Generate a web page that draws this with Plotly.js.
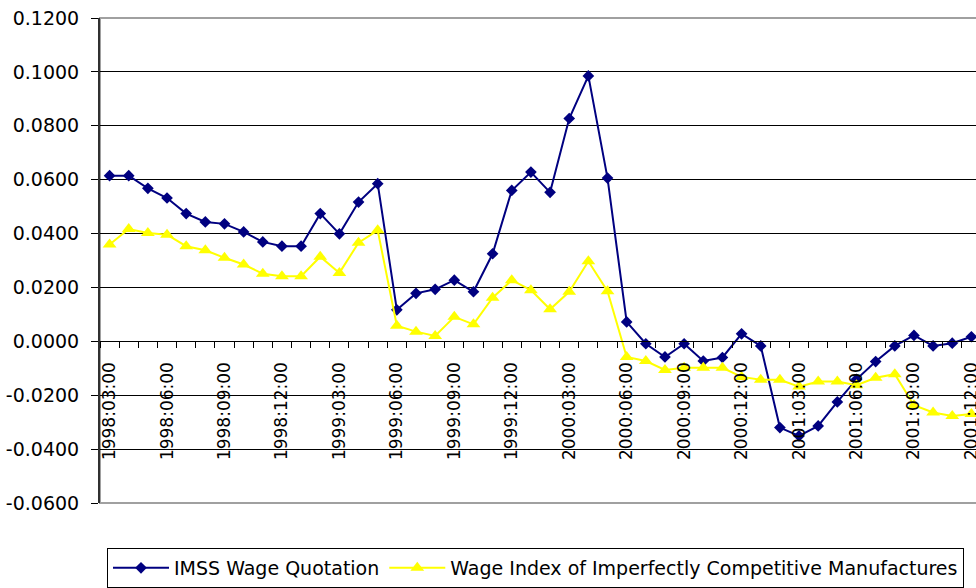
<!DOCTYPE html>
<html>
<head>
<meta charset="utf-8">
<script src="https://cdn.plot.ly/plotly-3.0.1.min.js"></script>
<style>
  html, body { margin: 0; padding: 0; background: #fff; }
  #chart { width: 976px; height: 588px; }
</style>
</head>
<body>
<div id="chart"></div>
<script>
// ---- Data ----
var months = [
  "1998:03:00","1998:04:00","1998:05:00","1998:06:00","1998:07:00","1998:08:00",
  "1998:09:00","1998:10:00","1998:11:00","1998:12:00","1999:01:00","1999:02:00",
  "1999:03:00","1999:04:00","1999:05:00","1999:06:00","1999:07:00","1999:08:00",
  "1999:09:00","1999:10:00","1999:11:00","1999:12:00","2000:01:00","2000:02:00",
  "2000:03:00","2000:04:00","2000:05:00","2000:06:00","2000:07:00","2000:08:00",
  "2000:09:00","2000:10:00","2000:11:00","2000:12:00","2001:01:00","2001:02:00",
  "2001:03:00","2001:04:00","2001:05:00","2001:06:00","2001:07:00","2001:08:00",
  "2001:09:00","2001:10:00","2001:11:00","2001:12:00"
];
var shownLabels = [
  "1998:03:00","1998:06:00","1998:09:00","1998:12:00","1999:03:00","1999:06:00",
  "1999:09:00","1999:12:00","2000:03:00","2000:06:00","2000:09:00","2000:12:00",
  "2001:03:00","2001:06:00","2001:09:00","2001:12:00"
];
var imssWage = [
  0.0615, 0.0615, 0.0568, 0.0532, 0.0474, 0.0443, 0.0436, 0.0406, 0.0369, 0.0353,
  0.0353, 0.0474, 0.0399, 0.0517, 0.0585, 0.0117, 0.0178, 0.0193, 0.0227, 0.0184,
  0.0325, 0.0560, 0.0628, 0.0553, 0.0827, 0.0985, 0.0606, 0.0072, -0.0009, -0.0058,
  -0.0009, -0.0073, -0.0060, 0.0028, -0.0017, -0.0320, -0.0351, -0.0314, -0.0225, -0.0141,
  -0.0075, -0.0017, 0.0022, -0.0017, -0.0007, 0.0017
];
var wageIndex = [
  0.0359, 0.0417, 0.0402, 0.0396, 0.0353, 0.0338, 0.0310, 0.0285, 0.0251, 0.0242,
  0.0242, 0.0314, 0.0254, 0.0366, 0.0412, 0.0058, 0.0036, 0.0020, 0.0091, 0.0063,
  0.0162, 0.0227, 0.0190, 0.0119, 0.0184, 0.0297, 0.0186, -0.0058, -0.0073, -0.0106,
  -0.0098, -0.0098, -0.0098, -0.0132, -0.0143, -0.0143, -0.0168, -0.0149, -0.0149, -0.0163,
  -0.0135, -0.0122, -0.0237, -0.0264, -0.0277, -0.0270
];
var yTickVals = [-0.06, -0.04, -0.02, 0, 0.02, 0.04, 0.06, 0.08, 0.10, 0.12];
var yTickText = ["-0.0600","-0.0400","-0.0200","0.0000","0.0200","0.0400","0.0600","0.0800","0.1000","0.1200"];
var seriesNames = ["IMSS Wage Quotation", "Wage Index of Imperfectly Competitive Manufactures"];

// ---- Chart ----
var FONT = "DejaVu Sans, Liberation Sans, Arial, sans-serif";
var xTickText = months.map(function (m) { return shownLabels.indexOf(m) >= 0 ? m : ""; });

var traces = [
  {
    x: months, y: imssWage, name: seriesNames[0], type: "scatter", mode: "lines+markers",
    line: { color: "#000080", width: 2 },
    marker: { symbol: "diamond", size: 9, color: "#000080" }
  },
  {
    x: months, y: wageIndex, name: seriesNames[1], type: "scatter", mode: "lines+markers",
    line: { color: "#FFFF00", width: 2 },
    marker: { symbol: "triangle-up", size: 12, color: "#FFFF00" }
  }
];

var yMin = yTickVals[0], yMax = yTickVals[yTickVals.length - 1];

var layout = {
  width: 976, height: 588,
  margin: { l: 100, r: 0, t: 18, b: 84 },
  paper_bgcolor: "#ffffff", plot_bgcolor: "#ffffff",
  font: { family: FONT, size: 19, color: "#000" },
  showlegend: true,
  legend: {
    orientation: "h",
    x: 7 / 876, xanchor: "left",
    y: -45 / 486, yanchor: "top",
    bordercolor: "#000", borderwidth: 1,
    font: { family: FONT, size: 19, color: "#000" },
    itemwidth: 56,
    traceorder: "normal"
  },
  xaxis: {
    type: "category",
    categoryorder: "array", categoryarray: months,
    range: [-0.5, 45.24],
    tickmode: "array", tickvals: months, ticktext: xTickText,
    tickson: "boundaries",
    ticks: "outside", ticklen: 6, tickcolor: "#000", tickwidth: 1,
    tickangle: -90,
    ticklabelstandoff: 13,
    tickfont: { family: FONT, size: 17, color: "#000" },
    showline: true, linecolor: "#000", linewidth: 1,
    showgrid: false, zeroline: false,
    anchor: "free",
    position: (0 - yMin) / (yMax - yMin),
    fixedrange: true
  },
  yaxis: {
    range: [yMin, yMax],
    tickmode: "array", tickvals: yTickVals, ticktext: yTickText,
    ticks: "outside", ticklen: 7, tickcolor: "#000", tickwidth: 1,
    ticklabelstandoff: 8,
    tickfont: { family: FONT, size: 19, color: "#000" },
    showline: true, linecolor: "#303030", linewidth: 2,
    showgrid: true, gridcolor: "#000", gridwidth: 1,
    zeroline: true, zerolinecolor: "#000", zerolinewidth: 1,
    fixedrange: true
  },
  shapes: [
    {
      type: "rect", xref: "paper", yref: "paper", x0: 0, x1: 1.01, y0: 0, y1: 1,
      line: { color: "#a0a0a0", width: 2 }, fillcolor: "rgba(0,0,0,0)", layer: "between"
    }
  ]
};

Plotly.newPlot("chart", traces, layout, { displayModeBar: false, staticPlot: true });
</script>
</body>
</html>
